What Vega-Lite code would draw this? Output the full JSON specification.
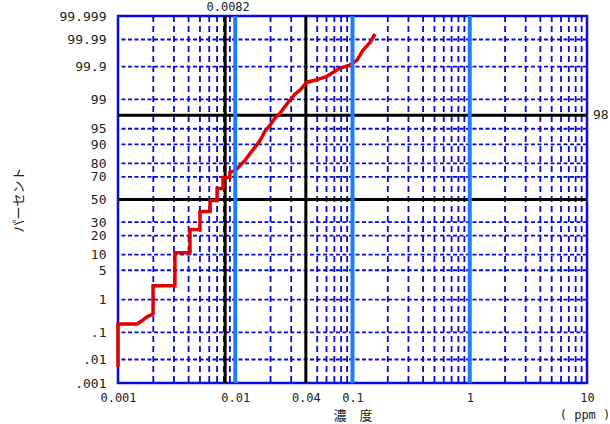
{
  "$schema": "https://vega.github.io/schema/vega-lite/v6.json",
  "width": 469,
  "height": 367,
  "autosize": "none",
  "padding": {"left": 118, "top": 16, "right": 23, "bottom": 41},
  "background": "white",
  "config": {
    "view": {"stroke": "#0a0ae6", "strokeWidth": 2.5},
    "font": "DejaVu Sans Mono"
  },
  "resolve": {"axis": {"x": "independent", "y": "independent"}},
  "datasets": {
    "vgrid": [
      {"v": 0.002}, {"v": 0.003}, {"v": 0.004}, {"v": 0.005}, {"v": 0.006}, {"v": 0.007}, {"v": 0.008}, {"v": 0.009},
      {"v": 0.02}, {"v": 0.03}, {"v": 0.04}, {"v": 0.05}, {"v": 0.06}, {"v": 0.07}, {"v": 0.08}, {"v": 0.09},
      {"v": 0.2}, {"v": 0.3}, {"v": 0.4}, {"v": 0.5}, {"v": 0.6}, {"v": 0.7}, {"v": 0.8}, {"v": 0.9},
      {"v": 2}, {"v": 3}, {"v": 4}, {"v": 5}, {"v": 6}, {"v": 7}, {"v": 8}, {"v": 9}
    ],
    "hgrid": [
      {"pct": 0.01}, {"pct": 0.1}, {"pct": 1}, {"pct": 5}, {"pct": 10}, {"pct": 20}, {"pct": 30},
      {"pct": 70}, {"pct": 80}, {"pct": 90}, {"pct": 95}, {"pct": 99}, {"pct": 99.9}, {"pct": 99.99}
    ],
    "bluev": [{"v": 0.01}, {"v": 0.1}, {"v": 1}],
    "blackv": [{"v": 0.0082}, {"v": 0.04}],
    "blackh": [{"pct": 50}, {"pct": 97.5}],
    "series": [
      {"i": 1, "ppm": 0.001, "pct": 0.005},
      {"i": 2, "ppm": 0.001, "pct": 0.19},
      {"i": 3, "ppm": 0.00145, "pct": 0.19},
      {"i": 4, "ppm": 0.0016, "pct": 0.24},
      {"i": 5, "ppm": 0.00177, "pct": 0.32},
      {"i": 6, "ppm": 0.00199, "pct": 0.39},
      {"i": 7, "ppm": 0.00199, "pct": 2.25},
      {"i": 8, "ppm": 0.00306, "pct": 2.25},
      {"i": 9, "ppm": 0.00306, "pct": 10.8},
      {"i": 10, "ppm": 0.00411, "pct": 10.8},
      {"i": 11, "ppm": 0.00411, "pct": 24.2},
      {"i": 12, "ppm": 0.005, "pct": 24.2},
      {"i": 13, "ppm": 0.005, "pct": 39},
      {"i": 14, "ppm": 0.0061, "pct": 39},
      {"i": 15, "ppm": 0.0061, "pct": 49},
      {"i": 16, "ppm": 0.007, "pct": 49},
      {"i": 17, "ppm": 0.007, "pct": 60},
      {"i": 18, "ppm": 0.00786, "pct": 60},
      {"i": 19, "ppm": 0.00786, "pct": 69.6},
      {"i": 20, "ppm": 0.009, "pct": 69.6},
      {"i": 21, "ppm": 0.009, "pct": 73.5},
      {"i": 22, "ppm": 0.0101, "pct": 75.1},
      {"i": 23, "ppm": 0.011, "pct": 78.6},
      {"i": 24, "ppm": 0.0121, "pct": 81.8},
      {"i": 25, "ppm": 0.0134, "pct": 85.8},
      {"i": 26, "ppm": 0.0147, "pct": 88.7},
      {"i": 27, "ppm": 0.0163, "pct": 91.5},
      {"i": 28, "ppm": 0.0179, "pct": 94.35},
      {"i": 29, "ppm": 0.0198, "pct": 95.77},
      {"i": 30, "ppm": 0.0218, "pct": 97.05},
      {"i": 31, "ppm": 0.0241, "pct": 97.75},
      {"i": 32, "ppm": 0.0266, "pct": 98.49},
      {"i": 33, "ppm": 0.0293, "pct": 98.95},
      {"i": 34, "ppm": 0.0323, "pct": 99.28},
      {"i": 35, "ppm": 0.0357, "pct": 99.45},
      {"i": 36, "ppm": 0.0409, "pct": 99.68},
      {"i": 37, "ppm": 0.0479, "pct": 99.72},
      {"i": 38, "ppm": 0.0606, "pct": 99.79},
      {"i": 39, "ppm": 0.0782, "pct": 99.887},
      {"i": 40, "ppm": 0.0952, "pct": 99.911},
      {"i": 41, "ppm": 0.1093, "pct": 99.94},
      {"i": 42, "ppm": 0.1229, "pct": 99.974},
      {"i": 43, "ppm": 0.1411, "pct": 99.987},
      {"i": 44, "ppm": 0.1556, "pct": 99.994}
    ],
    "labels": [
      {"t": "0.0082", "ppm": 0.0082, "pct": 99.999, "k": "top"},
      {"t": "98", "ppm": 10, "pct": 97.5, "k": "right"},
      {"t": "( ppm )", "ppm": 10, "pct": 0.001, "k": "unit"}
    ]
  },
  "layer": [
    {
      "data": {"name": "vgrid"},
      "mark": {"type": "rule", "color": "#0808d8", "strokeWidth": 1.8, "strokeDash": [6, 4]},
      "encoding": {
        "x": {"field": "v", "type": "quantitative", "scale": {"type": "log", "domain": [0.001, 10], "nice": false}, "axis": null}
      }
    },
    {
      "data": {"name": "hgrid"},
      "transform": [{"calculate": "quantileNormal(datum.pct/100)", "as": "z"}],
      "mark": {"type": "rule", "color": "#0808d8", "strokeWidth": 1.8, "strokeDash": [4, 2.5]},
      "encoding": {
        "y": {"field": "z", "type": "quantitative", "scale": {"domain": [-4.264891, 4.264891], "nice": false, "zero": false}, "axis": null}
      }
    },
    {
      "data": {"name": "blackv"},
      "mark": {"type": "rule", "color": "#000000", "strokeWidth": 3},
      "encoding": {
        "x": {"field": "v", "type": "quantitative", "scale": {"type": "log", "domain": [0.001, 10], "nice": false}, "axis": null}
      }
    },
    {
      "data": {"name": "blackh"},
      "transform": [{"calculate": "quantileNormal(datum.pct/100)", "as": "z"}],
      "mark": {"type": "rule", "color": "#000000", "strokeWidth": 3},
      "encoding": {
        "y": {"field": "z", "type": "quantitative", "scale": {"domain": [-4.264891, 4.264891], "nice": false, "zero": false}, "axis": null}
      }
    },
    {
      "data": {"name": "series"},
      "transform": [{"calculate": "quantileNormal(datum.pct/100)", "as": "z"}],
      "mark": {"type": "line", "color": "#e00000", "strokeWidth": 3.5, "strokeJoin": "miter", "strokeCap": "butt"},
      "encoding": {
        "order": {"field": "i", "type": "quantitative"},
        "x": {
          "field": "ppm", "type": "quantitative",
          "scale": {"type": "log", "domain": [0.001, 10], "nice": false},
          "axis": {
            "title": "濃　度",
            "titleFont": "Noto Sans CJK JP", "titleFontSize": 13, "titleFontWeight": "normal", "titleColor": "#222222",
            "titleX": 234.5, "titleY": 32, "titleBaseline": "middle", "titleAlign": "center",
            "values": [0.001, 0.01, 0.04, 0.1, 1, 10],
            "labelExpr": "toString(datum.value)",
            "labelFont": "DejaVu Sans Mono", "labelFontSize": 12, "labelColor": "#222222",
            "labelPadding": 9, "ticks": false, "tickSize": 0, "domain": false, "grid": false,
            "labelFlush": false, "labelOverlap": false
          }
        },
        "y": {
          "field": "z", "type": "quantitative",
          "scale": {"domain": [-4.264891, 4.264891], "nice": false, "zero": false},
          "axis": {
            "title": "パーセント",
            "titleFont": "Noto Sans CJK JP", "titleFontSize": 13, "titleFontWeight": "normal", "titleColor": "#222222",
            "titleX": -100, "titleY": 183.5, "titleAngle": -90, "titleBaseline": "middle", "titleAlign": "center",
            "values": [-4.264891, -3.719016, -3.090232, -2.326348, -1.644854, -1.281552, -0.841621, -0.524401, 0, 0.524401, 0.841621, 1.281552, 1.644854, 2.326348, 3.090232, 3.719016, 4.264891],
            "labelExpr": "replace(toString(round(cumulativeNormal(datum.value)*100000)/1000), '0.', '.')",
            "labelFont": "DejaVu Sans Mono", "labelFontSize": 13, "labelColor": "#222222",
            "labelPadding": 12, "ticks": false, "tickSize": 0, "domain": false, "grid": false,
            "labelFlush": false, "labelOverlap": false
          }
        }
      }
    },
    {
      "data": {"name": "bluev"},
      "mark": {"type": "rule", "color": "#1f7bff", "strokeWidth": 4},
      "encoding": {
        "x": {"field": "v", "type": "quantitative", "scale": {"type": "log", "domain": [0.001, 10], "nice": false}, "axis": null}
      }
    },
    {
      "data": {"name": "labels"},
      "transform": [{"filter": "datum.k == 'top'"}, {"calculate": "quantileNormal(datum.pct/100)", "as": "z"}],
      "mark": {"type": "text", "font": "DejaVu Sans Mono", "fontSize": 12, "color": "#222222", "align": "center", "baseline": "middle", "dx": 3, "dy": -9},
      "encoding": {
        "x": {"field": "ppm", "type": "quantitative", "scale": {"type": "log", "domain": [0.001, 10], "nice": false}, "axis": null},
        "y": {"field": "z", "type": "quantitative", "scale": {"domain": [-4.264891, 4.264891], "nice": false, "zero": false}, "axis": null},
        "text": {"field": "t"}
      }
    },
    {
      "data": {"name": "labels"},
      "transform": [{"filter": "datum.k == 'right'"}, {"calculate": "quantileNormal(datum.pct/100)", "as": "z"}],
      "mark": {"type": "text", "font": "DejaVu Sans Mono", "fontSize": 13, "color": "#222222", "align": "left", "baseline": "middle", "dx": 6, "dy": 0},
      "encoding": {
        "x": {"field": "ppm", "type": "quantitative", "scale": {"type": "log", "domain": [0.001, 10], "nice": false}, "axis": null},
        "y": {"field": "z", "type": "quantitative", "scale": {"domain": [-4.264891, 4.264891], "nice": false, "zero": false}, "axis": null},
        "text": {"field": "t"}
      }
    },
    {
      "data": {"name": "labels"},
      "transform": [{"filter": "datum.k == 'unit'"}, {"calculate": "quantileNormal(datum.pct/100)", "as": "z"}],
      "mark": {"type": "text", "font": "DejaVu Sans Mono", "fontSize": 12, "color": "#222222", "align": "center", "baseline": "middle", "dx": -2, "dy": 32},
      "encoding": {
        "x": {"field": "ppm", "type": "quantitative", "scale": {"type": "log", "domain": [0.001, 10], "nice": false}, "axis": null},
        "y": {"field": "z", "type": "quantitative", "scale": {"domain": [-4.264891, 4.264891], "nice": false, "zero": false}, "axis": null},
        "text": {"field": "t"}
      }
    }
  ]
}
